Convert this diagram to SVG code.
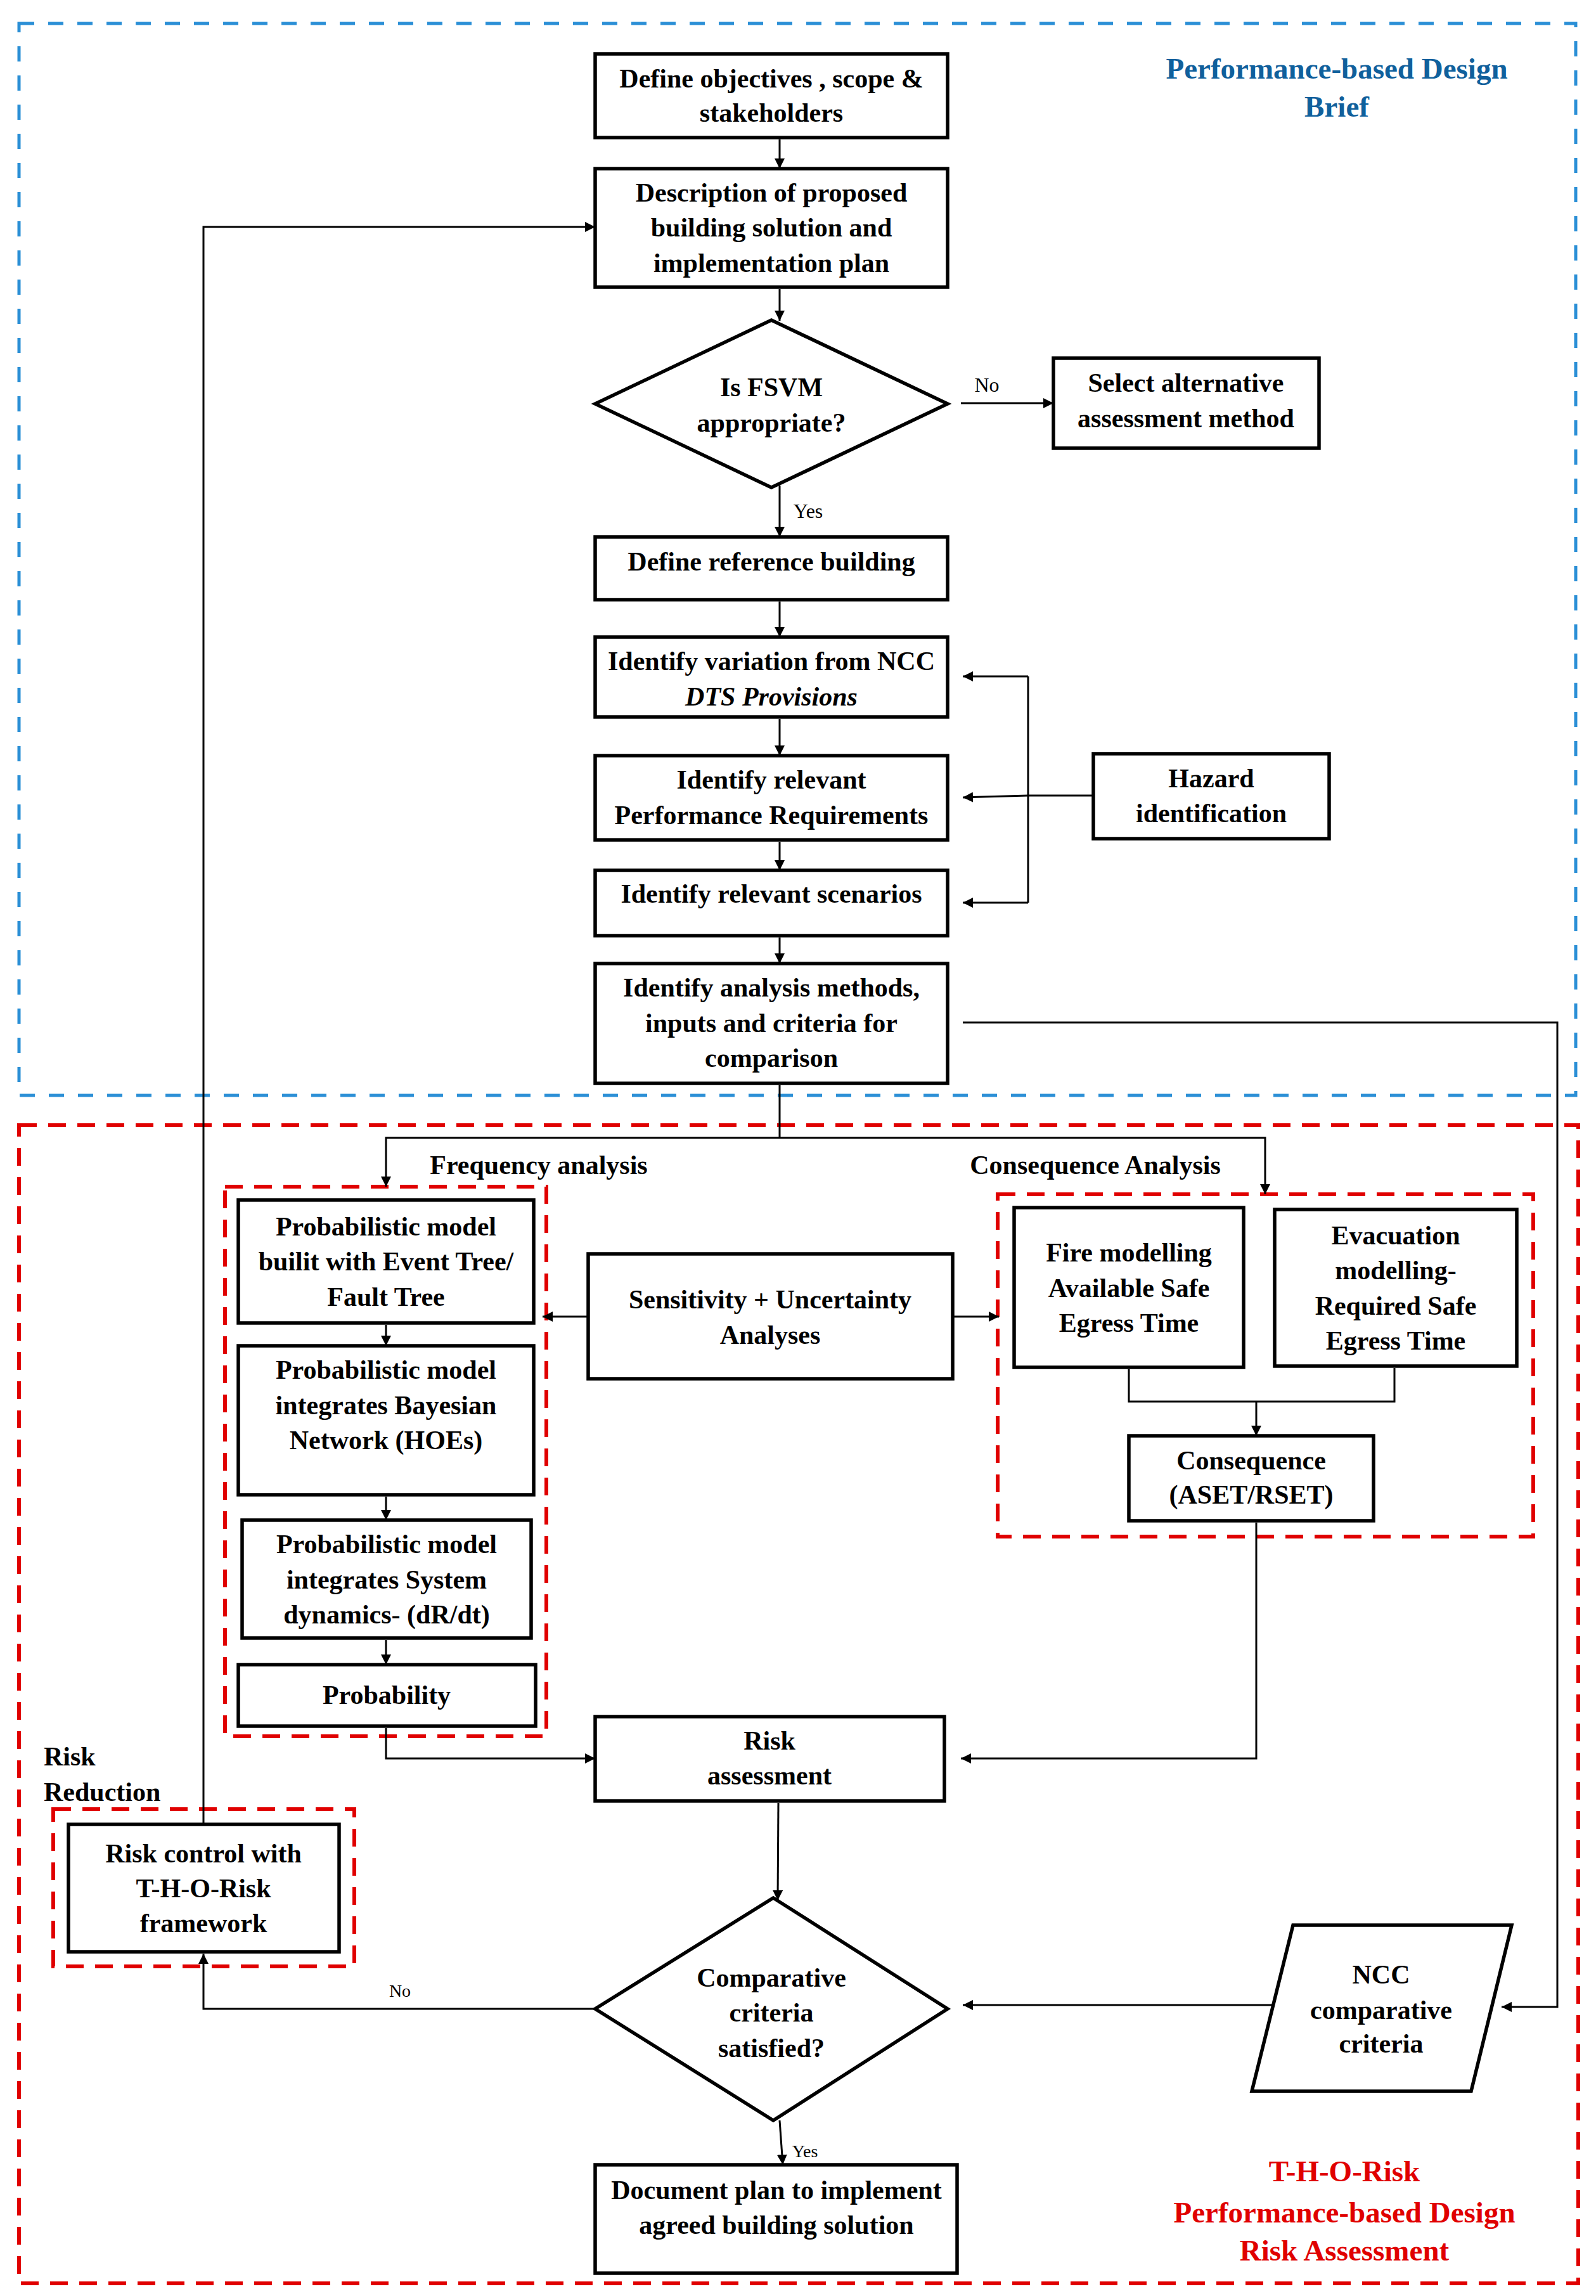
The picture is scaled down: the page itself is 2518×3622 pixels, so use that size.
<svg xmlns="http://www.w3.org/2000/svg" width="2518" height="3622" viewBox="0 0 2518 3622">
<style>
.bx{fill:#fff;stroke:#000;stroke-width:5.5;stroke-linejoin:miter}
.t{font-family:"Liberation Serif","Times New Roman",serif;font-weight:bold;font-size:42px;fill:#000;text-anchor:middle}
.ts{font-family:"Liberation Serif","Times New Roman",serif;font-weight:bold;font-size:42px;fill:#000;text-anchor:start}
.lbl{font-family:"Liberation Serif","Times New Roman",serif;font-size:32px;fill:#000;text-anchor:middle}
.sl{font-family:"Liberation Serif","Times New Roman",serif;font-size:28px;fill:#000;text-anchor:middle}
.ttl{font-family:"Liberation Serif","Times New Roman",serif;font-weight:bold;font-size:47px;text-anchor:middle}
.c{fill:none;stroke:#000;stroke-width:3}
.ca{fill:none;stroke:#000;stroke-width:3;marker-end:url(#ah)}
.bd{fill:none;stroke:#2b8fd6;stroke-width:5;stroke-dasharray:24 22}
.rd{fill:none;stroke:#e00000;stroke-width:6;stroke-dasharray:28 18}
</style>
<defs>
<marker id="ah" markerUnits="userSpaceOnUse" markerWidth="16" markerHeight="16" refX="16" refY="8" orient="auto">
<path d="M0,0 L16,8 L0,16 z" fill="#000"/>
</marker>
</defs>
<rect width="2518" height="3622" fill="#fff"/>

<g id="frames">
<rect class="bd" x="30" y="37" width="2456" height="1691"/>
<rect class="rd" x="30" y="1775" width="2460" height="1827"/>
<rect class="rd" x="355" y="1872" width="507" height="867"/>
<rect class="rd" x="1574" y="1884" width="845" height="540"/>
<rect class="rd" x="84" y="2854" width="475" height="248"/>
<text class="ttl" fill="#10609c" x="2109" y="124">Performance-based Design</text>
<text class="ttl" fill="#10609c" x="2109" y="184">Brief</text>
<text class="ttl" fill="#e00000" x="2121" y="3441">T-H-O-Risk</text>
<text class="ttl" fill="#e00000" x="2121" y="3506">Performance-based Design</text>
<text class="ttl" fill="#e00000" x="2121" y="3566">Risk Assessment</text>
</g>

<g id="connectors">
<line class="ca" x1="1230" y1="220" x2="1230" y2="266"/>
<line class="ca" x1="1230" y1="456" x2="1230" y2="506"/>
<line class="ca" x1="1516" y1="636" x2="1662" y2="636"/>
<line class="ca" x1="1230" y1="766" x2="1230" y2="847"/>
<line class="ca" x1="1230" y1="949" x2="1230" y2="1005"/>
<line class="ca" x1="1230" y1="1134" x2="1230" y2="1192"/>
<line class="ca" x1="1230" y1="1328" x2="1230" y2="1373"/>
<line class="ca" x1="1230" y1="1479" x2="1230" y2="1520"/>
<polyline class="c" points="1622,1067 1622,1424"/>
<line class="ca" x1="1622" y1="1067" x2="1519" y2="1067"/>
<line class="ca" x1="1622" y1="1424" x2="1519" y2="1424"/>
<polyline class="ca" points="1725,1255 1622,1255 1519,1258"/>
<polyline class="ca" points="1519,1613 2457,1613 2457,3166 2369,3166"/>
<polyline class="c" points="1230,1712 1230,1795"/>
<polyline class="ca" points="1230,1795 609,1795 609,1872"/>
<polyline class="ca" points="1230,1795 1996,1795 1996,1884"/>
<line class="ca" x1="609" y1="2090" x2="609" y2="2123"/>
<line class="ca" x1="609" y1="2361" x2="609" y2="2398"/>
<line class="ca" x1="609" y1="2587" x2="609" y2="2626"/>
<polyline class="ca" points="609,2726 609,2774 939,2774"/>
<line class="ca" x1="928" y1="2077" x2="856" y2="2077"/>
<line class="ca" x1="1503" y1="2077" x2="1576" y2="2077"/>
<polyline class="c" points="1781,2160 1781,2211 2200,2211 2200,2158"/>
<line class="ca" x1="1982" y1="2211" x2="1982" y2="2265"/>
<polyline class="ca" points="1982,2402 1982,2774 1516,2774"/>
<line class="ca" x1="1228" y1="2844" x2="1227" y2="2998"/>
<line class="ca" x1="2007" y1="3163" x2="1519" y2="3163"/>
<polyline class="ca" points="939,3169 321,3169 321,3082"/>
<polyline class="ca" points="321,2876 321,358 939,358"/>
<line class="ca" x1="1230" y1="3345" x2="1235" y2="3415"/>
<text class="lbl" x="1557" y="618">No</text>
<text class="lbl" x="1275" y="817">Yes</text>
<text class="sl" x="631" y="3150">No</text>
<text class="sl" x="1270" y="3403">Yes</text>
<text class="t" x="850" y="1852">Frequency analysis</text>
<text class="t" x="1728" y="1852">Consequence Analysis</text>
<text class="ts" x="69" y="2785">Risk</text>
<text class="ts" x="69" y="2841">Reduction</text>
</g>

<g id="n-objectives">
<rect class="bx" x="939" y="85" width="556" height="132"/>
<text class="t" x="1217" y="138">Define objectives , scope &amp;</text>
<text class="t" x="1217" y="192">stakeholders</text>
</g>
<g id="n-description">
<rect class="bx" x="939" y="266" width="556" height="187"/>
<text class="t" x="1217" y="318">Description of proposed</text>
<text class="t" x="1217" y="373">building solution and</text>
<text class="t" x="1217" y="429">implementation plan</text>
</g>
<g id="n-fsvm">
<polygon class="bx" points="1217,505 1495,637 1217,769 939,637"/>
<text class="t" x="1217" y="625">Is FSVM</text>
<text class="t" x="1217" y="681">appropriate?</text>
</g>
<g id="n-alternative">
<rect class="bx" x="1662" y="565" width="419" height="142"/>
<text class="t" x="1871" y="618">Select alternative</text>
<text class="t" x="1871" y="674">assessment method</text>
</g>
<g id="n-reference">
<rect class="bx" x="939" y="847" width="556" height="99"/>
<text class="t" x="1217" y="900">Define reference building</text>
</g>
<g id="n-variation">
<rect class="bx" x="939" y="1005" width="556" height="126"/>
<text class="t" x="1217" y="1057">Identify variation from NCC</text>
<text class="t" x="1217" y="1113" font-style="italic">DTS Provisions</text>
</g>
<g id="n-performance">
<rect class="bx" x="939" y="1192" width="556" height="133"/>
<text class="t" x="1217" y="1244">Identify relevant</text>
<text class="t" x="1217" y="1300">Performance Requirements</text>
</g>
<g id="n-scenarios">
<rect class="bx" x="939" y="1373" width="556" height="103"/>
<text class="t" x="1217" y="1424">Identify relevant scenarios</text>
</g>
<g id="n-analysis">
<rect class="bx" x="939" y="1520" width="556" height="189"/>
<text class="t" x="1217" y="1572">Identify analysis methods,</text>
<text class="t" x="1217" y="1628">inputs and criteria for</text>
<text class="t" x="1217" y="1683">comparison</text>
</g>
<g id="n-hazard">
<rect class="bx" x="1725" y="1189" width="372" height="134"/>
<text class="t" x="1911" y="1242">Hazard</text>
<text class="t" x="1911" y="1297">identification</text>
</g>
<g id="n-prob1">
<rect class="bx" x="376" y="1893" width="466" height="194"/>
<text class="t" x="609" y="1949">Probabilistic model</text>
<text class="t" x="609" y="2004">builit with Event Tree/</text>
<text class="t" x="609" y="2060">Fault Tree</text>
</g>
<g id="n-prob2">
<rect class="bx" x="376" y="2123" width="466" height="235"/>
<text class="t" x="609" y="2175">Probabilistic model</text>
<text class="t" x="609" y="2231">integrates Bayesian</text>
<text class="t" x="609" y="2286">Network (HOEs)</text>
</g>
<g id="n-prob3">
<rect class="bx" x="382" y="2398" width="456" height="186"/>
<text class="t" x="610" y="2450">Probabilistic model</text>
<text class="t" x="610" y="2506">integrates System</text>
<text class="t" x="610" y="2561">dynamics- (dR/dt)</text>
</g>
<g id="n-probability">
<rect class="bx" x="376" y="2626" width="469" height="97"/>
<text class="t" x="610" y="2688">Probability</text>
</g>
<g id="n-sensitivity">
<rect class="bx" x="928" y="1978" width="575" height="197"/>
<text class="t" x="1215" y="2064">Sensitivity + Uncertainty</text>
<text class="t" x="1215" y="2120">Analyses</text>
</g>
<g id="n-fire">
<rect class="bx" x="1600" y="1905" width="362" height="252"/>
<text class="t" x="1781" y="1990">Fire modelling</text>
<text class="t" x="1781" y="2046">Available Safe</text>
<text class="t" x="1781" y="2101">Egress Time</text>
</g>
<g id="n-evacuation">
<rect class="bx" x="2011" y="1908" width="382" height="247"/>
<text class="t" x="2202" y="1963">Evacuation</text>
<text class="t" x="2202" y="2018">modelling-</text>
<text class="t" x="2202" y="2074">Required Safe</text>
<text class="t" x="2202" y="2129">Egress Time</text>
</g>
<g id="n-consequence">
<rect class="bx" x="1781" y="2265" width="386" height="134"/>
<text class="t" x="1974" y="2318">Consequence</text>
<text class="t" x="1974" y="2372">(ASET/RSET)</text>
</g>
<g id="n-risk">
<rect class="bx" x="939" y="2708" width="551" height="133"/>
<text class="t" x="1214" y="2760">Risk</text>
<text class="t" x="1214" y="2815">assessment</text>
</g>
<g id="n-riskcontrol">
<rect class="bx" x="108" y="2878" width="427" height="201"/>
<text class="t" x="321" y="2938">Risk control with</text>
<text class="t" x="321" y="2993">T-H-O-Risk</text>
<text class="t" x="321" y="3048">framework</text>
</g>
<g id="n-comparative">
<polygon class="bx" points="1220,2994 1495,3169 1220,3345 939,3169"/>
<text class="t" x="1217" y="3134">Comparative</text>
<text class="t" x="1217" y="3189">criteria</text>
<text class="t" x="1217" y="3245">satisfied?</text>
</g>
<g id="n-ncc">
<polygon class="bx" points="2040,3037 2385,3037 2321,3299 1975,3299"/>
<text class="t" x="2179" y="3129">NCC</text>
<text class="t" x="2179" y="3185">comparative</text>
<text class="t" x="2179" y="3238">criteria</text>
</g>
<g id="n-document">
<rect class="bx" x="939" y="3415" width="571" height="171"/>
<text class="t" x="1225" y="3469">Document plan to implement</text>
<text class="t" x="1225" y="3524">agreed building solution</text>
</g>
</svg>
